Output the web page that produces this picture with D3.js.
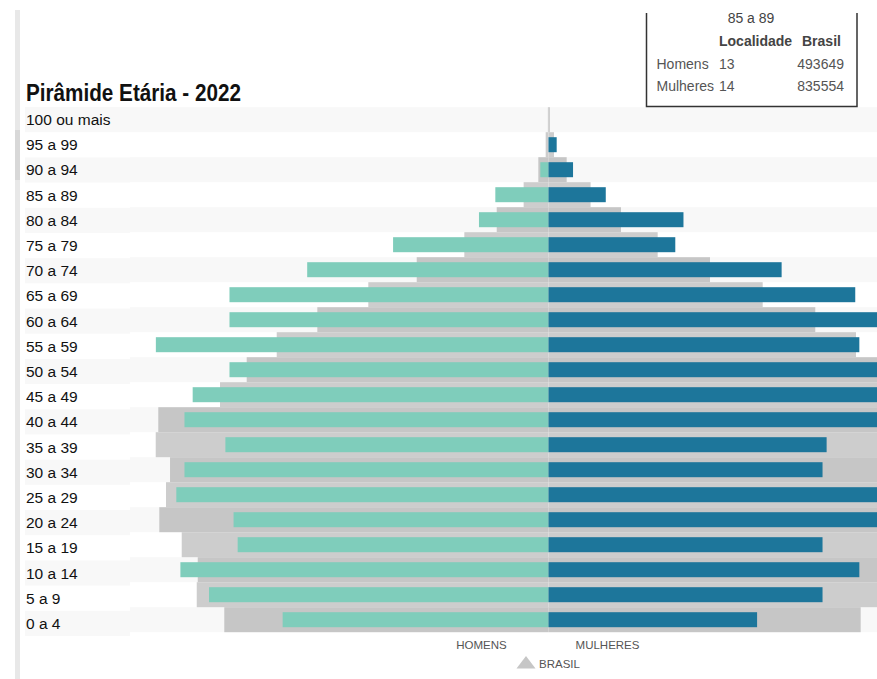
<!DOCTYPE html>
<html>
<head>
<meta charset="utf-8">
<script src="https://cdn.jsdelivr.net/npm/d3@7"></script>
<style>
  body { margin: 0; background: #fff; }
  svg { display: block; font-family: "Liberation Sans", Arial, sans-serif; }
</style>
</head>
<body>
<script>
// Age groups, top to bottom
var ages = ["100 ou mais", "95 a 99", "90 a 94", "85 a 89", "80 a 84", "75 a 79", "70 a 74",
            "65 a 69", "60 a 64", "55 a 59", "50 a 54", "45 a 49", "40 a 44", "35 a 39",
            "30 a 34", "25 a 29", "20 a 24", "15 a 19", "10 a 14", "5 a 9", "0 a 4"];

// Localidade (people)
var homensLocal   = [0, 0, 2, 13, 17, 38, 59, 78, 78, 96, 78, 87, 89, 79, 89, 91, 77, 76, 90, 83, 65];
var mulheresLocal = [0, 2, 6, 14, 33, 31, 57, 75, 84, 76, 86, 88, 92, 68, 67, 95, 86, 67, 76, 67, 51];

// Brasil (people)
var homensBrasil   = [12000, 56000, 202000, 493649, 1028000, 1671000, 2616000, 3577000, 4589000,
                      5395000, 5991000, 6521000, 7746000, 7797000, 7513000, 7593000, 7726000,
                      7281000, 6963000, 6983000, 6436000];
var mulheresBrasil = [26000, 109000, 361000, 835554, 1439000, 2167000, 3206000, 4252000, 5296000,
                      6104000, 6900000, 7250000, 8150000, 8180000, 7870000, 7800000, 7750000,
                      7150000, 6800000, 6700000, 6197000];

// Tooltip contents
var tipAge = "85 a 89";
var tipHeader = ["Localidade", "Brasil"];
var tipRows = ["Homens", "Mulheres"];

var w = 877,
    h = 679,
    cx = 548.5;

var teal = "#7fcdbb",
    blue = "#1d769b";

var svg = d3.select("body").append("svg")
    .attr("width", w)
    .attr("height", h);

svg.append("rect")
    .attr("width", w)
    .attr("height", h)
    .attr("fill", "#fff");

// Scales
var yBar = d3.scaleBand().domain(ages).range([107.2, 632.2]);
var yLab = d3.scaleBand().domain(ages).range([107, 636]);
var xLocal = d3.scaleLinear().domain([0, 100]).range([0, 409]);
var xBrasil = d3.scaleLinear().domain([0, 8000000]).range([0, 403]);

// Left strip (scroll bar)
svg.append("rect")
    .attr("x", 15).attr("y", 10)
    .attr("width", 5).attr("height", h - 10)
    .attr("fill", "#e8e8e8");
svg.append("rect")
    .attr("x", 15).attr("y", 130)
    .attr("width", 5).attr("height", 50)
    .attr("fill", "#d8d8d8");

// Alternating row stripes
svg.selectAll(".stripeL")
  .data(ages.filter(function(d, i) { return i % 2 == 0; }))
  .enter().append("rect")
    .attr("x", 25)
    .attr("y", function(d) { return yLab(d); })
    .attr("width", 105)
    .attr("height", yLab.bandwidth())
    .attr("fill", "#f8f8f8");

svg.selectAll(".stripeC")
  .data(ages.filter(function(d, i) { return i % 2 == 0; }))
  .enter().append("rect")
    .attr("x", 130)
    .attr("y", function(d) { return yBar(d); })
    .attr("width", w - 130)
    .attr("height", yBar.bandwidth())
    .attr("fill", "#f8f8f8");

// Brasil bars (grey)
var bw = yBar.bandwidth();
ages.forEach(function(a, i) {
  var col = i % 2 == 0 ? "#c6c6c6" : "#cdcdcd";
  svg.append("rect")
    .attr("x", cx - xBrasil(homensBrasil[i]))
    .attr("y", yBar(a))
    .attr("width", xBrasil(homensBrasil[i]))
    .attr("height", bw)
    .attr("fill", col);
  svg.append("rect")
    .attr("x", cx)
    .attr("y", yBar(a))
    .attr("width", xBrasil(mulheresBrasil[i]))
    .attr("height", bw)
    .attr("fill", col);
});

// Localidade bars
var bh = 15;
svg.selectAll(".homens")
  .data(ages)
  .enter().append("rect")
    .attr("x", function(d, i) { return cx - xLocal(homensLocal[i]); })
    .attr("y", function(d) { return yBar(d) + (bw - bh) / 2; })
    .attr("width", function(d, i) { return xLocal(homensLocal[i]); })
    .attr("height", bh)
    .attr("fill", teal);

svg.selectAll(".mulheres")
  .data(ages)
  .enter().append("rect")
    .attr("x", cx)
    .attr("y", function(d) { return yBar(d) + (bw - bh) / 2; })
    .attr("width", function(d, i) { return xLocal(mulheresLocal[i]); })
    .attr("height", bh)
    .attr("fill", blue);

// Age labels
svg.selectAll(".age")
  .data(ages)
  .enter().append("text")
    .attr("x", 26)
    .attr("y", function(d) { return yLab(d) + yLab.bandwidth() / 2 + 5.5; })
    .style("font-size", "15.5px")
    .style("fill", "#111")
    .text(function(d) { return d; });

// Title
svg.append("text")
    .attr("x", 26)
    .attr("y", 100.5)
    .attr("textLength", 215)
    .attr("lengthAdjust", "spacingAndGlyphs")
    .style("font-size", "23px")
    .style("font-weight", "bold")
    .style("fill", "#111")
    .text("Pirâmide Etária - 2022");

// Legend
svg.append("text")
    .attr("x", 481.5).attr("y", 649)
    .attr("text-anchor", "middle")
    .style("font-size", "11.5px")
    .style("fill", "#555")
    .text("HOMENS");
svg.append("text")
    .attr("x", 607.5).attr("y", 649)
    .attr("text-anchor", "middle")
    .style("font-size", "11.5px")
    .style("fill", "#555")
    .text("MULHERES");
svg.append("path")
    .attr("d", "M516.5,668.5 L526,656 L535.5,668.5 Z")
    .attr("fill", "#c6c6c6");
svg.append("text")
    .attr("x", 539).attr("y", 668)
    .style("font-size", "11.5px")
    .style("fill", "#555")
    .text("BRASIL");

// Tooltip box (top cut off by the screenshot)
svg.append("clipPath")
    .attr("id", "tipClip")
  .append("rect")
    .attr("x", 640).attr("y", 13)
    .attr("width", 237).attr("height", 100);

var tip = svg.append("g")
    .attr("clip-path", "url(#tipClip)");
tip.append("rect")
    .attr("x", 647).attr("y", 13)
    .attr("width", 210).attr("height", 93)
    .attr("fill", "#fff");
tip.append("path")
    .attr("d", "M646.5,13 V106.5 H857 V13")
    .attr("fill", "none")
    .attr("stroke", "#333")
    .attr("stroke-width", 1.5);

tip.append("text")
    .attr("x", 751).attr("y", 23)
    .attr("text-anchor", "middle")
    .style("font-size", "14px")
    .style("fill", "#444")
    .text(tipAge);
tip.append("text")
    .attr("x", 719).attr("y", 46)
    .style("font-size", "14px")
    .style("font-weight", "bold")
    .style("fill", "#444")
    .text(tipHeader[0]);
tip.append("text")
    .attr("x", 802).attr("y", 46)
    .style("font-size", "14px")
    .style("font-weight", "bold")
    .style("fill", "#444")
    .text(tipHeader[1]);

tipRows.forEach(function(r, i) {
  var y = 68.5 + i * 22.3;
  var idx = ages.indexOf(tipAge);
  var loc = i == 0 ? homensLocal[idx] : mulheresLocal[idx];
  var br = i == 0 ? homensBrasil[idx] : mulheresBrasil[idx];
  tip.append("text")
      .attr("x", 656.5).attr("y", y)
      .style("font-size", "14px")
      .style("fill", "#555")
      .text(r);
  tip.append("text")
      .attr("x", 719).attr("y", y)
      .style("font-size", "14px")
      .style("fill", "#555")
      .text(loc);
  tip.append("text")
      .attr("x", 844).attr("y", y)
      .attr("text-anchor", "end")
      .style("font-size", "14px")
      .style("fill", "#555")
      .text(br);
});
</script>
</body>
</html>
